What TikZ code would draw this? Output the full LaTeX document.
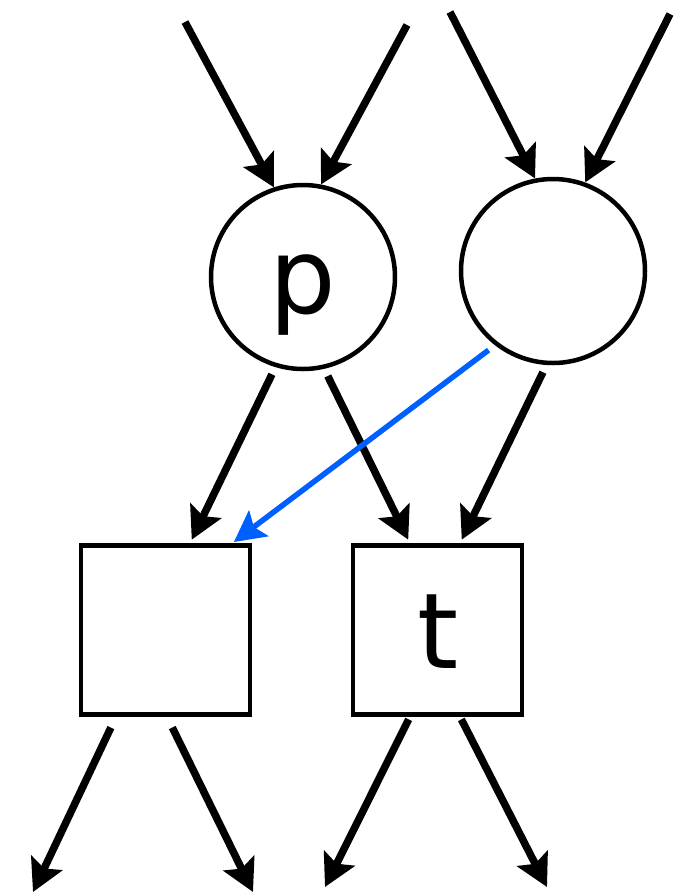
\documentclass[tikz,border=0pt]{standalone}
\usepackage{fontspec}
\setmainfont{DejaVu Sans}
\usetikzlibrary{arrows.meta}
\definecolor{arrblue}{RGB}{0,96,255}
\begin{document}
\begin{tikzpicture}[x=1pt,y=-1pt,
  place/.style={draw,circle,line width=4.5pt,minimum size=184pt,inner sep=0pt},
  trans/.style={draw,rectangle,line width=4.5pt,minimum size=169pt,inner sep=0pt},
  arr/.style={line width=7.5pt,-{Stealth[length=32pt,width=34pt,inset=6pt]}},
  barr/.style={line width=5.5pt,arrblue,-{Stealth[length=31pt,width=32pt,inset=6pt]}},
  lbl/.style={font=\fontsize{105pt}{105pt}\selectfont,inner sep=0pt,anchor=base}]
\useasboundingbox (0,0) rectangle (683,895);
\node[place] (p) at (303,277) {};
\node[place] (q) at (553,271) {};
\node[trans] (s1) at (165.5,630) {};
\node[trans] (t) at (437.5,630) {};
\node[lbl] (plbl) at (303,313) {p};
\node[lbl] (tlbl) at (438,668) {t};
\coordinate (i1) at (185,22);
\coordinate (i2) at (407,25);
\coordinate (i3) at (450,12);
\coordinate (i4) at (670,14);
\coordinate (o1) at (33,892);
\coordinate (o2) at (253,892);
\coordinate (o3) at (325,887);
\coordinate (o4) at (547,887);
\draw[arr] (i1) -- (p.108.6);
\draw[arr] (i2) -- (p.79);
\draw[arr] (i3) -- (q.101);
\draw[arr] (i4) -- (q.70.6);
\draw[arr,shorten <=8pt,shorten >=4pt] (p.-107) -- ([xshift=24.5pt]s1.north);
\draw[arr,shorten <=8pt,shorten >=4pt] (p.-77) -- ([xshift=-27.5pt]t.north);
\draw[arr,shorten <=8pt,shorten >=4pt] (q.-94) -- ([xshift=22.5pt]t.north);
\draw[barr,shorten <=8pt,shorten >=2pt] (q.-128) -- ([xshift=-20pt]s1.north east);
\draw[arr,shorten <=12pt] ([xshift=-49.5pt]s1.south) -- (o1);
\draw[arr,shorten <=12pt] ([xshift=1.5pt]s1.south) -- (o2);
\draw[arr,shorten <=3pt] ([xshift=-27.5pt]t.south) -- (o3);
\draw[arr,shorten <=3pt] ([xshift=22.5pt]t.south) -- (o4);
\end{tikzpicture}
\end{document}
